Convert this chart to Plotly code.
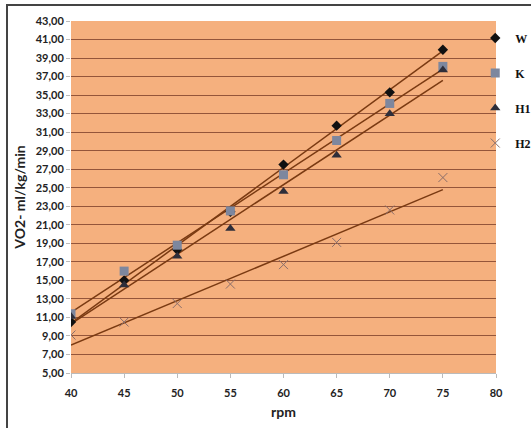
import numpy as np
import plotly.graph_objects as go

rpm = [40, 45, 50, 55, 60, 65, 70, 75]
W = [10.5, 15.0, 18.3, 22.4, 27.5, 31.7, 35.3, 39.9]
K = [11.4, 16.0, 18.8, 22.5, 26.4, 30.1, 34.1, 38.1]
H1 = [11.1, 14.5, 17.6, 20.6, 24.6, 28.5, 33.0, 37.7]
H2 = [9.1, 10.5, 12.5, 14.6, 16.7, 19.1, 22.6, 26.1]
y_ticks = [5, 7, 9, 11, 13, 15, 17, 19, 21, 23, 25, 27, 29, 31, 33, 35, 37, 39, 41, 43]
x_ticks = [40, 45, 50, 55, 60, 65, 70, 75, 80]

series = [
    ("W", W, dict(symbol="diamond", color="#111111", size=8)),
    ("K", K, dict(symbol="square", color="#7D879E", size=9)),
    ("H1", H1, dict(symbol="triangle-up", color="#2E2E3A", size=9)),
    ("H2", H2, dict(symbol="x-thin-open", color="#8A6E6A", size=9,
                    line=dict(width=1, color="#8A6E6A"))),
]

fig = go.Figure()
trend_color = "#7A3A12"
for name, vals, mk in series:
    coef = np.polyfit(rpm, vals, 1)
    xs = [rpm[0], rpm[-1]]
    fig.add_trace(go.Scatter(x=xs, y=list(np.polyval(coef, xs)), mode="lines",
                             line=dict(color=trend_color, width=1.5),
                             showlegend=False, hoverinfo="skip"))
for name, vals, mk in series:
    fig.add_trace(go.Scatter(x=rpm, y=vals, mode="markers", name=name,
                             marker=mk, legendgroup=name))

tickfont = dict(family="Lato", size=11, color="#222222", weight="bold")
titlefont = dict(family="Lato", size=14, color="#222222", weight="bold")
fig.update_layout(
    width=531, height=428,
    margin=dict(l=71, r=35, t=21, b=55, autoexpand=False),
    paper_bgcolor="white",
    plot_bgcolor="#F5B07E",
    separators=",.",
    showlegend=True,
    legend=dict(xref="container", yref="container", x=0.895, y=0.945,
                xanchor="left", yanchor="top",
                font=dict(family="Liberation Serif", size=12, color="#111111", weight="bold"),
                tracegroupgap=16, bgcolor="rgba(0,0,0,0)", itemwidth=30),
    xaxis=dict(range=[40, 80], tickvals=x_ticks, showgrid=False, zeroline=False,
               showline=True, linecolor="#BBBBBB", linewidth=1,
               ticks="outside", ticklen=4, tickcolor="#BBBBBB",
               tickfont=tickfont, ticklabelstandoff=6,
               title=dict(text="rpm", font=titlefont, standoff=8)),
    yaxis=dict(range=[5, 43], tickvals=y_ticks, tickformat=".2f", showgrid=True,
               gridcolor="#94553A", gridwidth=1, zeroline=False, showline=False,
               ticks="outside", ticklen=4, tickcolor="#BBBBBB",
               tickfont=tickfont,
               title=dict(text="VO2- ml/kg/min", font=titlefont, standoff=6)),
    shapes=[dict(type="rect", xref="paper", yref="paper",
                 x0=-64/425, x1=1 + 40/425, y0=-60/352, y1=1 + 16/352,
                 line=dict(color="#444444", width=2), fillcolor="rgba(0,0,0,0)",
                 layer="below")],
)
fig.write_html("out.html")
